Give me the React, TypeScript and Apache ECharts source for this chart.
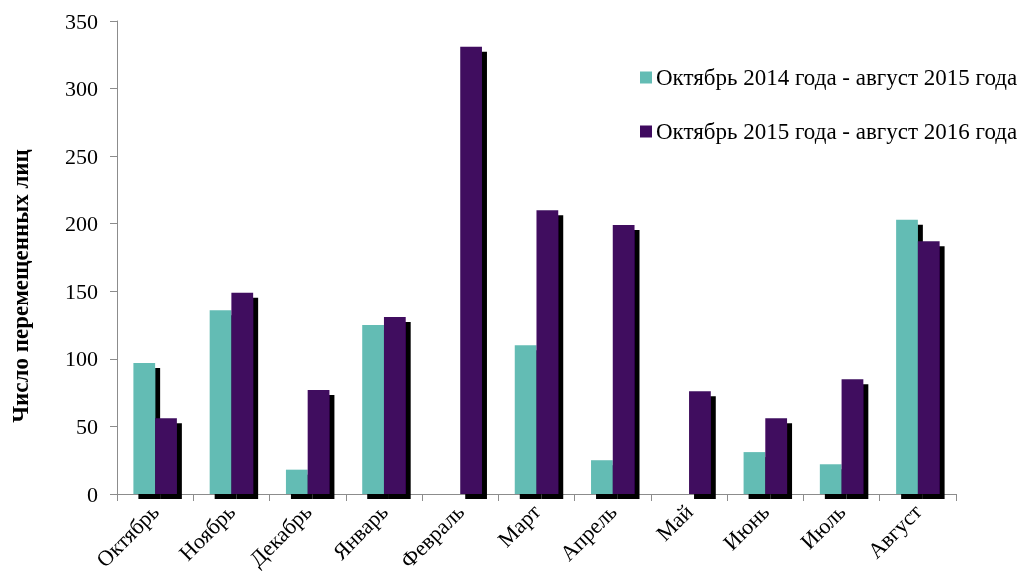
import React, { useEffect, useRef } from "react";
import * as echarts from "echarts";

const categories = ["Октябрь", "Ноябрь", "Декабрь", "Январь", "Февраль", "Март", "Апрель", "Май", "Июнь", "Июль", "Август"];
const series2015 = [97, 136, 18, 125, 0, 110, 25, 0, 31, 22, 203];
const series2016 = [56, 149, 77, 131, 331, 210, 199, 76, 56, 85, 187];
const seriesNames = ["Октябрь 2014 года - август 2015 года", "Октябрь 2015 года - август 2016 года"];
const yAxisName = "Число перемещенных лиц";

export default function App() {
  const ref = useRef<HTMLDivElement>(null);
  useEffect(() => {
    if (!ref.current) return;
    const chart = echarts.init(ref.current, undefined, { renderer: "svg" });
    const font = "'Liberation Serif', 'Times New Roman', serif";
    const shadow = { shadowColor: "#000", shadowBlur: 0, shadowOffsetX: 5, shadowOffsetY: 5 };
    chart.setOption({
      animation: false,
      textStyle: { fontFamily: font },
      grid: { left: 117, right: 62, top: 21, bottom: 83, containLabel: false },
      legend: {
        orient: "vertical",
        left: 640,
        top: 66,
        padding: 0,
        itemWidth: 12,
        itemHeight: 12,
        itemGap: 31,
        textStyle: { fontFamily: font, fontSize: 23, color: "#000", padding: [0, 0, 0, -1] },
        data: seriesNames.map((n) => ({ name: n, icon: "rect" })),
      },
      xAxis: {
        type: "category",
        data: categories,
        axisLine: { lineStyle: { color: "#8c8c8c", width: 1 } },
        axisTick: { show: true, length: 7, lineStyle: { color: "#8c8c8c" } },
        axisLabel: { rotate: 45, fontFamily: font, fontSize: 22, color: "#000", margin: 14, interval: 0 },
      },
      yAxis: {
        type: "value",
        min: 0,
        max: 350,
        interval: 50,
        splitLine: { show: false },
        axisLine: { show: true, lineStyle: { color: "#8c8c8c", width: 1 } },
        axisTick: { show: true, length: 7, lineStyle: { color: "#8c8c8c" } },
        axisLabel: { fontFamily: font, fontSize: 22, color: "#000", margin: 19 },
      },
      graphic: [
        {
          type: "text",
          x: 20,
          y: 286,
          rotation: Math.PI / 2,
          style: {
            text: yAxisName,
            fontFamily: font,
            fontSize: 23,
            fontWeight: "bold",
            fill: "#000",
            align: "center",
            verticalAlign: "middle",
          },
        },
      ],
      series: [
        {
          name: seriesNames[0],
          type: "bar",
          data: series2015,
          barGap: "0%",
          barCategoryGap: "43%",
          itemStyle: { color: "#63bcb4", ...shadow },
        },
        {
          name: seriesNames[1],
          type: "bar",
          data: series2016,
          itemStyle: { color: "#3f0a5f", ...shadow },
        },
      ],
    });
    return () => chart.dispose();
  }, []);
  return <div ref={ref} style={{ position: "fixed", left: 0, top: 0, width: 1018, height: 577 }} />;
}
